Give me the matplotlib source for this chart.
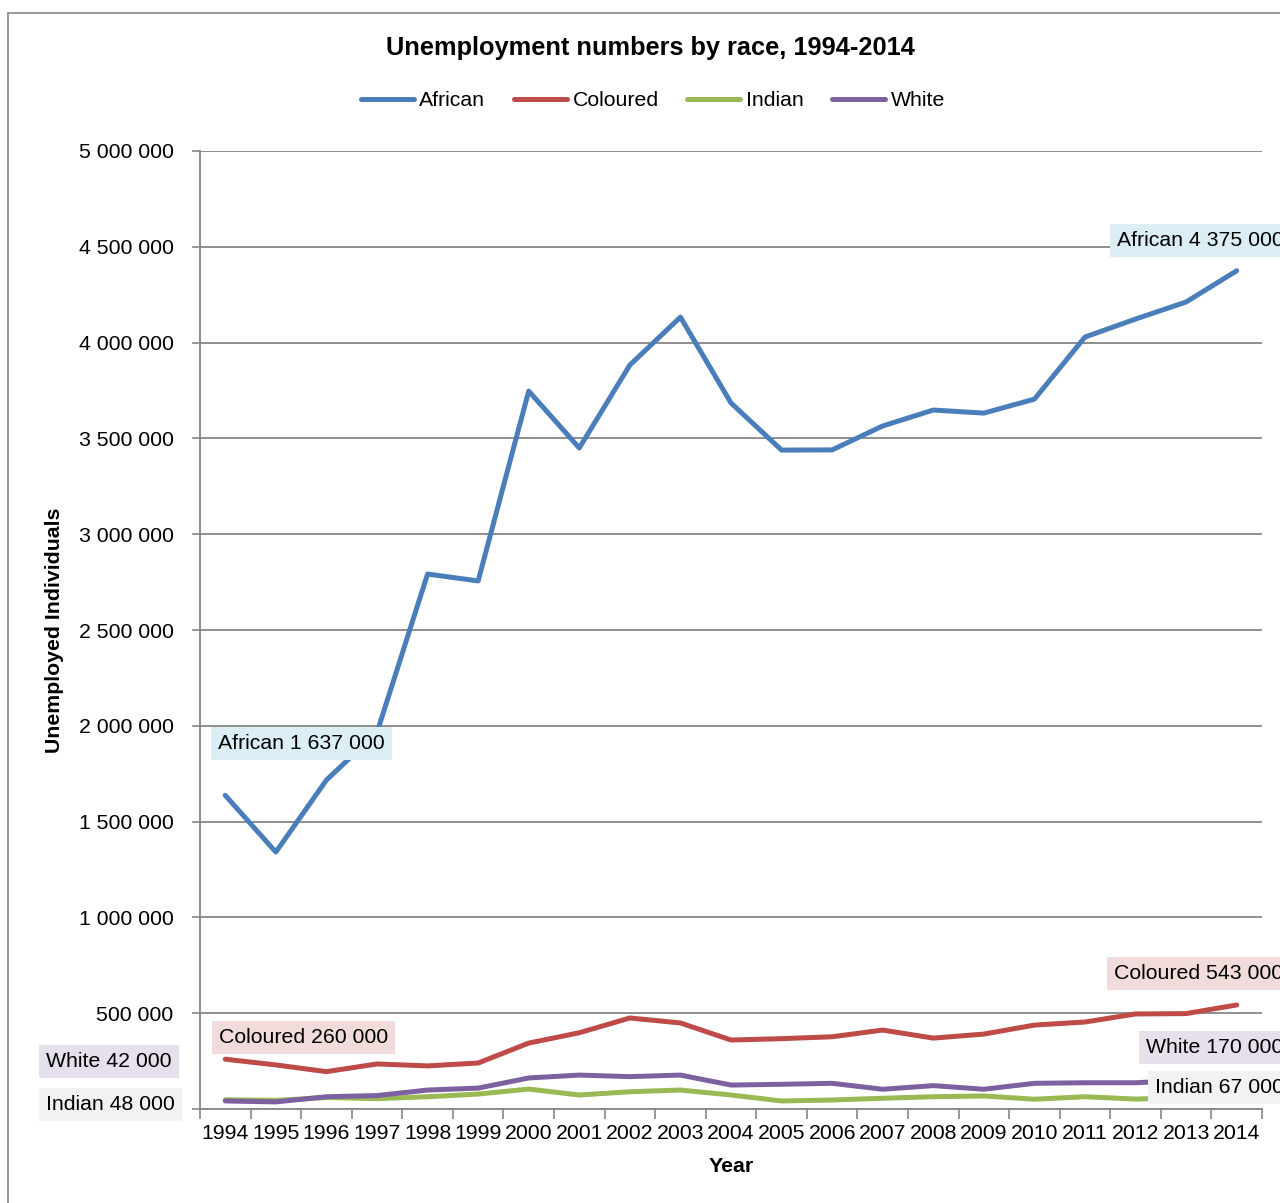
import matplotlib
matplotlib.use("Agg")
import matplotlib.pyplot as plt
from matplotlib.patches import Rectangle

plt.rcParams['font.family'] = ['Liberation Sans', 'DejaVu Sans']

years = list(range(1994, 2015))
african = [1637000, 1341000, 1717000, 1965000, 2792000, 2756000, 3747000, 3450000,
           3883000, 4133000, 3685000, 3439000, 3440000, 3565000, 3648000, 3632000,
           3705000, 4029000, 4123000, 4212000, 4375000]
coloured = [260000, 230000, 195000, 235000, 225000, 240000, 344000, 398000,
            475000, 449000, 360000, 367000, 377000, 412000, 370000, 391000,
            438000, 454000, 496000, 498000, 543000]
indian = [48000, 45000, 60000, 54000, 64000, 78000, 104000, 73000,
          90000, 99000, 73000, 42000, 47000, 56000, 64000, 68000,
          51000, 64000, 52000, 60000, 67000]
white = [42000, 37000, 64000, 70000, 99000, 109000, 162000, 177000,
         169000, 177000, 125000, 129000, 134000, 103000, 122000, 103000,
         134000, 137000, 137000, 150000, 170000]

series = [
    ("African", african, "#4A7EBB", "#DBEEF4"),
    ("Coloured", coloured, "#BE4B48", "#F2DCDB"),
    ("Indian", indian, "#98B954", "#F2F2F2"),
    ("White", white, "#7D60A0", "#E5E0EC"),
]

# label offsets in pixels: (first point, last point)
offsets = {
    "African": ((-7, 52), (-120, 30)),
    "Coloured": ((-6, 22), (-123, 31)),
    "Indian": ((-179, -5), (-82, 9)),
    "White": ((-179, 39), (-91, 29)),
}

fs = 15.3

fig = plt.figure(figsize=(12.8, 12.03), dpi=100)
ax = fig.add_axes([200 / 1280, 1 - 1109 / 1203, 1062 / 1280, 958 / 1203])

# outer chart border
fig.patches.append(Rectangle((8 / 1280, -0.5), 2, 0.5 + 1 - 13 / 1203,
                             transform=fig.transFigure, fill=False,
                             edgecolor="#888888", linewidth=1.2))

for name, vals, col, fill in series:
    ax.plot(years, vals, color=col, linewidth=3.6, label=name,
            solid_capstyle="round", solid_joinstyle="round", zorder=3)

def fmt(v):
    return "{:,}".format(v).replace(",", " ")

for name, vals, col, fill in series:
    for idx, off in zip((0, -1), offsets[name]):
        ax.annotate("%s %s" % (name, fmt(vals[idx])), xy=(years[idx], vals[idx]),
                    xytext=off, textcoords="offset pixels", fontsize=fs,
                    ha="left", va="center", annotation_clip=False,
                    bbox=dict(boxstyle="square,pad=0.33", fc=fill, ec="none"),
                    zorder=5)

ax.set_xlim(1993.5, 2014.5)
ax.set_ylim(0, 5000000)
ax.set_yticks(range(0, 5000001, 500000))
ax.set_yticklabels([""] + [fmt(v) for v in range(500000, 5000001, 500000)])
ax.set_xticks(years)
ax.set_xticks([y + 0.5 for y in range(1993, 2015)], minor=True)
ax.tick_params(axis="x", which="major", length=0, pad=11, labelsize=fs)
ax.tick_params(axis="x", which="minor", length=7, color="#868686", width=1.2)
ax.tick_params(axis="y", length=6, color="#868686", width=1.2, pad=13, labelsize=fs)
ax.grid(axis="y", color="#868686", linewidth=1.3)
ax.set_axisbelow(True)
for s in ("top", "right"):
    ax.spines[s].set_visible(False)
for s in ("left", "bottom"):
    ax.spines[s].set_color("#868686")
    ax.spines[s].set_linewidth(1.3)

fig.text(650 / 1280, 1 - 48 / 1203, "Unemployment numbers by race, 1994-2014",
         fontsize=18.3, fontweight="bold", ha="center", va="center")
fig.text(55 / 1280, 1 - 630 / 1203, "Unemployed Individuals", fontsize=fs,
         fontweight="bold", rotation=90, ha="center", va="center")
fig.text(731 / 1280, 1 - 1166 / 1203, "Year", fontsize=fs,
         fontweight="bold", ha="center", va="center")

fig.legend(loc="center", bbox_to_anchor=(653 / 1280, 1 - 101 / 1203), ncol=4,
           frameon=False, fontsize=fs, handlelength=2.5, handletextpad=0.25,
           columnspacing=1.35)

fig.savefig("out.png", dpi=100)
